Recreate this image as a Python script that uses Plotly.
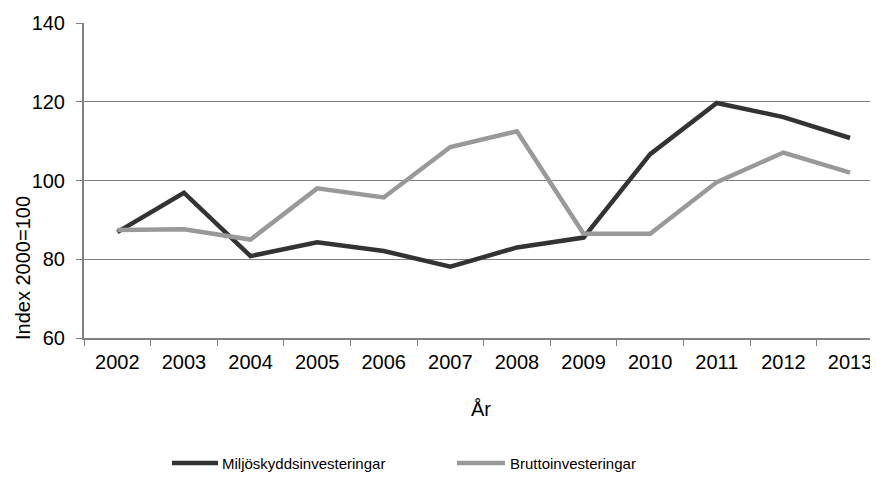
import plotly.graph_objects as go

years = ["2002", "2003", "2004", "2005", "2006", "2007", "2008", "2009", "2010", "2011", "2012", "2013"]
miljo = [86.9, 96.9, 80.8, 84.3, 82.1, 78.1, 83.0, 85.5, 106.7, 119.7, 116.1, 110.8]
brutto = [87.4, 87.6, 85.0, 98.0, 95.7, 108.5, 112.5, 86.5, 86.5, 99.6, 107.1, 102.0]
y_ticks = [60, 80, 100, 120, 140]
series_names = ["Miljöskyddsinvesteringar", "Bruttoinvesteringar"]
series_colors = ["#333333", "#999999"]

FAM = "Liberation Sans, Arial, sans-serif"
font = dict(family=FAM, size=20, color="#000000")

W, H = 870, 471  # page body adds an 8px offset

# plot area in page pixels (for placing the legend drawn below the axis)
PX0, PX1, PY0, PY1 = 84, 878, 23, 338


def px_x(x):
    return (x - PX0) / (PX1 - PX0)


def px_y(y):
    return (PY1 - y) / (PY1 - PY0)


fig = go.Figure()
for vals, name, col in zip([miljo, brutto], series_names, series_colors):
    fig.add_trace(go.Scatter(x=years, y=vals, mode="lines", name=name,
                             line=dict(color=col, width=4.5), showlegend=False))

fig.add_shape(type="line", xref="paper", yref="y", x0=0, x1=1, y0=100, y1=100,
              line=dict(color="#000000", width=1), layer="below")

fig.add_annotation(text="Index 2000=100", xref="paper", yref="paper",
                   x=px_x(23), y=px_y(268), xanchor="center", yanchor="middle",
                   textangle=-90, showarrow=False, font=font)

# legend
leg_y = 463
for (x0, x1, tx), name, col in zip([(172, 218, 220), (457, 505, 508)], series_names, series_colors):
    fig.add_shape(type="line", xref="paper", yref="paper",
                  x0=px_x(x0), x1=px_x(x1), y0=px_y(leg_y), y1=px_y(leg_y),
                  line=dict(color=col, width=4.5))
    fig.add_annotation(text=name, xref="paper", yref="paper", x=px_x(tx), y=px_y(leg_y),
                       xanchor="left", yanchor="middle", showarrow=False,
                       font=dict(family=FAM, size=15, color="#000000"))

fig.update_layout(
    width=W, height=H,
    margin=dict(l=76, r=0, t=15, b=141, autoexpand=False),
    paper_bgcolor="white", plot_bgcolor="white",
    font=font,
    showlegend=False,
    xaxis=dict(type="category", range=[-0.5, 11.42], tickson="boundaries",
               ticks="outside", ticklen=6, tickcolor="#808080", tickwidth=1,
               ticklabelstandoff=5,
               showline=True, linecolor="#808080", linewidth=2, automargin=False,
               showgrid=False, title=dict(text="År", font=font, standoff=30),
               tickfont=font),
    yaxis=dict(range=[60, 140], tickvals=y_ticks, ticks="outside", ticklen=6,
               tickcolor="#808080", showline=True, linecolor="#808080", linewidth=2,
               ticklabelstandoff=7,
               showgrid=True, gridcolor="#808080", gridwidth=1, zeroline=False,
               automargin=False, tickfont=font),
)

fig.write_html("out.html")
